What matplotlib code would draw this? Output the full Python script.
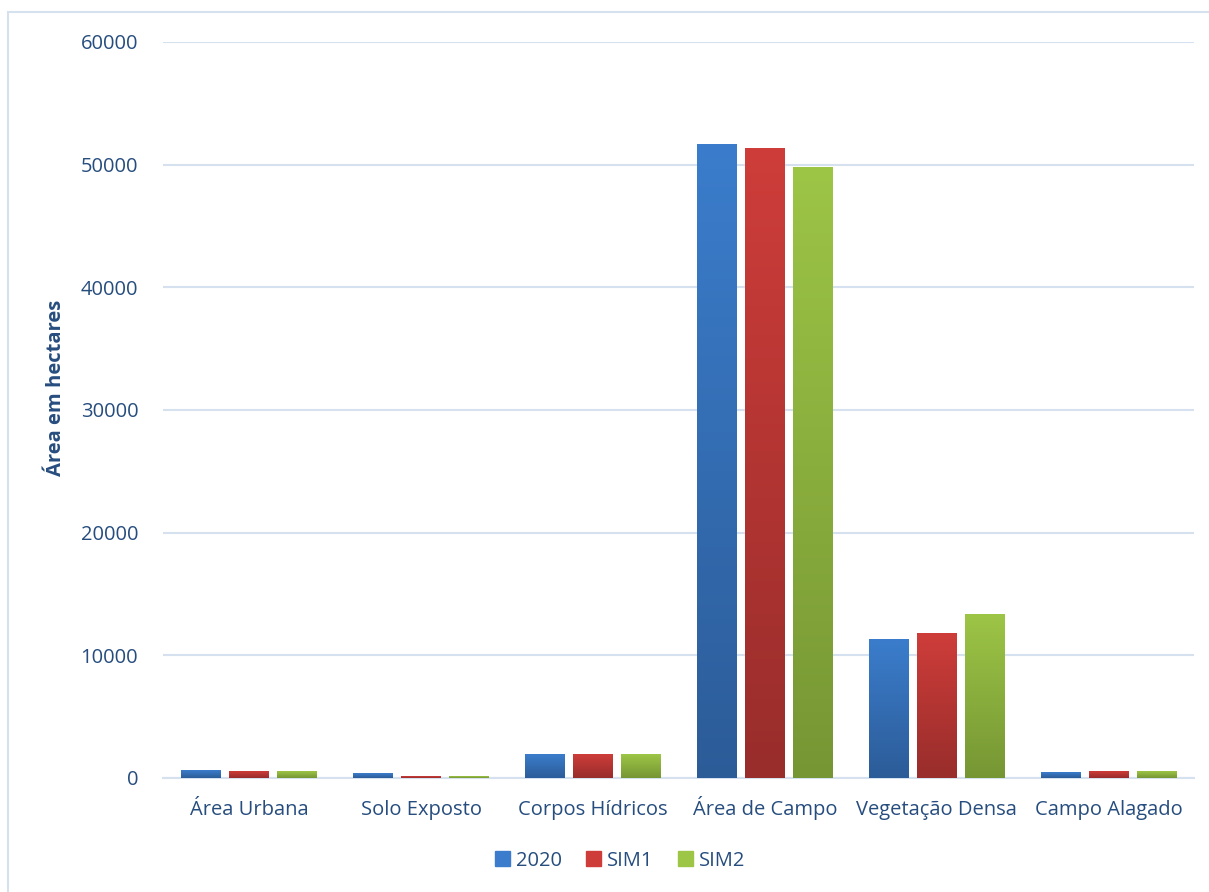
import matplotlib.pyplot as plt
import matplotlib.colors as mcolors
import numpy as np
from matplotlib.patches import Rectangle

categorias = ["Área Urbana", "Solo Exposto", "Corpos Hídricos", "Área de Campo",
              "Vegetação Densa", "Campo Alagado"]
series = ["2020", "SIM1", "SIM2"]
v2020 = [650, 330, 1880, 51680, 11330, 410]
vsim1 = [570, 160, 1880, 51360, 11820, 570]
vsim2 = [570, 160, 1880, 49810, 13290, 570]
valores = [v2020, vsim1, vsim2]

# top / bottom colours of each bar gradient
cores = [("#3B7DCC", "#2C5C98"), ("#CE3D3A", "#982D2B"), ("#9DC546", "#769634")]
texto = "#264D7E"
grade = "#D6E1F0"

plt.rcParams['font.family'] = ['Open Sans', 'DejaVu Sans']

fig = plt.figure(figsize=[12.09, 8.92], dpi=100)
ax = fig.add_axes([0.135, 0.128, 0.853, 0.825])

# outer chart border (only left/top visible in the picture)
fig.patches.append(Rectangle((8 / 1209, -0.1), 1.2, 1 - 12 / 892 + 0.1,
                             transform=fig.transFigure, fill=False,
                             edgecolor=grade, linewidth=1.5))

x = np.arange(len(categorias))
largura = 0.232
passo = 0.279
grad = np.linspace(1, 0, 256).reshape(-1, 1)

for i, (nome, vals) in enumerate(zip(series, valores)):
    topo, base = cores[i]
    cmap = mcolors.LinearSegmentedColormap.from_list(nome, [base, topo])
    pos = x + (i - 1) * passo
    barras = ax.bar(pos, vals, largura, color=topo, label=nome, zorder=3)
    for b in barras:
        b.set_facecolor("none")
        x0, y0 = b.get_x(), b.get_y()
        w, h = b.get_width(), b.get_height()
        ax.imshow(grad, cmap=cmap, aspect="auto", zorder=3,
                  extent=[x0, x0 + w, y0, y0 + h], vmin=0, vmax=1)
        # faint shadow below bar
        ax.add_patch(Rectangle((x0, -250), w, 250, color="#B0B0B0",
                               alpha=0.35, linewidth=0, zorder=2))

ax.set_xlim(-0.5, len(categorias) - 0.5)
ax.set_ylim(0, 60000)
ax.set_yticks(np.arange(0, 60001, 10000))
ax.set_xticks(x)
ax.set_xticklabels(categorias, va="baseline")
ax.grid(axis="y", color=grade, linewidth=1.5, zorder=0)
ax.set_axisbelow(True)
for s in ["top", "right", "left"]:
    ax.spines[s].set_visible(False)
ax.spines["bottom"].set_color(grade)
ax.spines["bottom"].set_linewidth(1.5)
ax.tick_params(axis="both", length=0, colors=texto, labelsize=14.5)
ax.tick_params(axis="x", pad=27)
ax.tick_params(axis="y", pad=18)
ax.set_ylabel("Área em hectares", color=texto, fontsize=14.5, fontweight="bold")
ax.yaxis.set_label_coords(-0.094, 0.53)

handles = [Rectangle((0, 0), 1, 1, color=c[0]) for c in cores]
fig.legend(handles, series, loc="center", bbox_to_anchor=(0.513, 0.035),
           ncol=3, frameon=False, fontsize=14.5, labelcolor=texto,
           handlelength=0.75, handleheight=0.75, handletextpad=0.3, columnspacing=1.2)

plt.savefig("out.png")
